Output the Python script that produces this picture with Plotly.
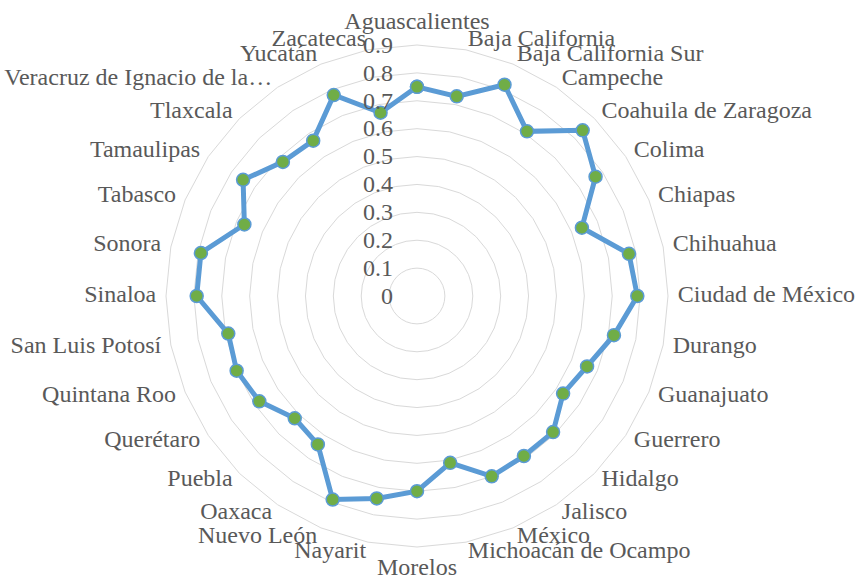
import plotly.graph_objects as go

states = ["Aguascalientes", "Baja California", "Baja California Sur", "Campeche",
          "Coahuila de Zaragoza", "Colima", "Chiapas", "Chihuahua", "Ciudad de México",
          "Durango", "Guanajuato", "Guerrero", "Hidalgo", "Jalisco", "México",
          "Michoacán de Ocampo", "Morelos", "Nayarit", "Nuevo León", "Oaxaca", "Puebla",
          "Querétaro", "Quintana Roo", "San Luis Potosí", "Sinaloa", "Sonora", "Tabasco",
          "Tamaulipas", "Tlaxcala", "Veracruz de Ignacio de la…", "Yucatán", "Zacatecas"]
values = [0.75, 0.73, 0.82, 0.71, 0.84, 0.77, 0.64, 0.775, 0.79, 0.72, 0.66, 0.63,
          0.69, 0.69, 0.70, 0.61, 0.70, 0.74, 0.79, 0.64, 0.62, 0.68, 0.70, 0.69,
          0.79, 0.79, 0.67, 0.75, 0.68, 0.67, 0.78, 0.67]
radial_ticks = [0, 0.1, 0.2, 0.3, 0.4, 0.5, 0.6, 0.7, 0.8, 0.9]

text_color = "#595959"
grid_color = "#d9d9d9"
FONT = "Liberation Serif"
LABEL_R = 0.935  # category labels sit just outside the outer ring (0.9)

# pixel geometry of the plot: centre (417, 296), 0.9 ring at 251 px
W, H = 859, 581
CX, CY = 417, 296
PX_PER_UNIT = 251 / 0.9
RAD = LABEL_R * PX_PER_UNIT

n = len(states)
positions = []
for i in range(n):
    ang = i * 360.0 / n
    if ang == 0:
        positions.append("top center")
    elif ang == 180:
        positions.append("bottom center")
    elif ang < 180:
        positions.append("middle right")
    else:
        positions.append("middle left")

fig = go.Figure()
fig.add_trace(go.Scatterpolar(
    r=values + values[:1],
    theta=states + states[:1],
    mode="lines+markers",
    line=dict(color="#5B9BD5", width=5),
    marker=dict(color="#70AD47", size=13, line=dict(color="#5B9BD5", width=1.5)),
    showlegend=False,
))
# category labels (Excel-style placement)
fig.add_trace(go.Scatterpolar(
    r=[LABEL_R] * n,
    theta=states,
    mode="text",
    text=states,
    textposition=positions,
    textfont=dict(family=FONT, size=24, color=text_color),
    cliponaxis=False,
    hoverinfo="skip",
    showlegend=False,
))

fig.update_layout(
    width=W, height=H,
    margin=dict(l=0, r=0, t=0, b=0),
    paper_bgcolor="white",
    font=dict(family=FONT, size=24, color=text_color),
    polar=dict(
        domain=dict(x=[(CX - RAD) / W, (CX + RAD) / W],
                    y=[(H - CY - RAD) / H, (H - CY + RAD) / H]),
        bgcolor="white",
        gridshape="linear",
        radialaxis=dict(
            range=[0, LABEL_R],
            tickvals=radial_ticks,
            ticktext=[("%g" % v) for v in radial_ticks],
            angle=90,
            tickangle=90,
            side="counterclockwise",
            showline=False,
            ticks="outside",
            ticklen=15,
            tickcolor="rgba(0,0,0,0)",
            gridcolor=grid_color,
            gridwidth=1.3,
            tickfont=dict(family=FONT, size=24, color=text_color),
        ),
        angularaxis=dict(
            direction="clockwise",
            rotation=90,
            showgrid=False,
            showline=False,
            ticks="",
            showticklabels=False,
        ),
    ),
)

fig.write_html("out.html")
